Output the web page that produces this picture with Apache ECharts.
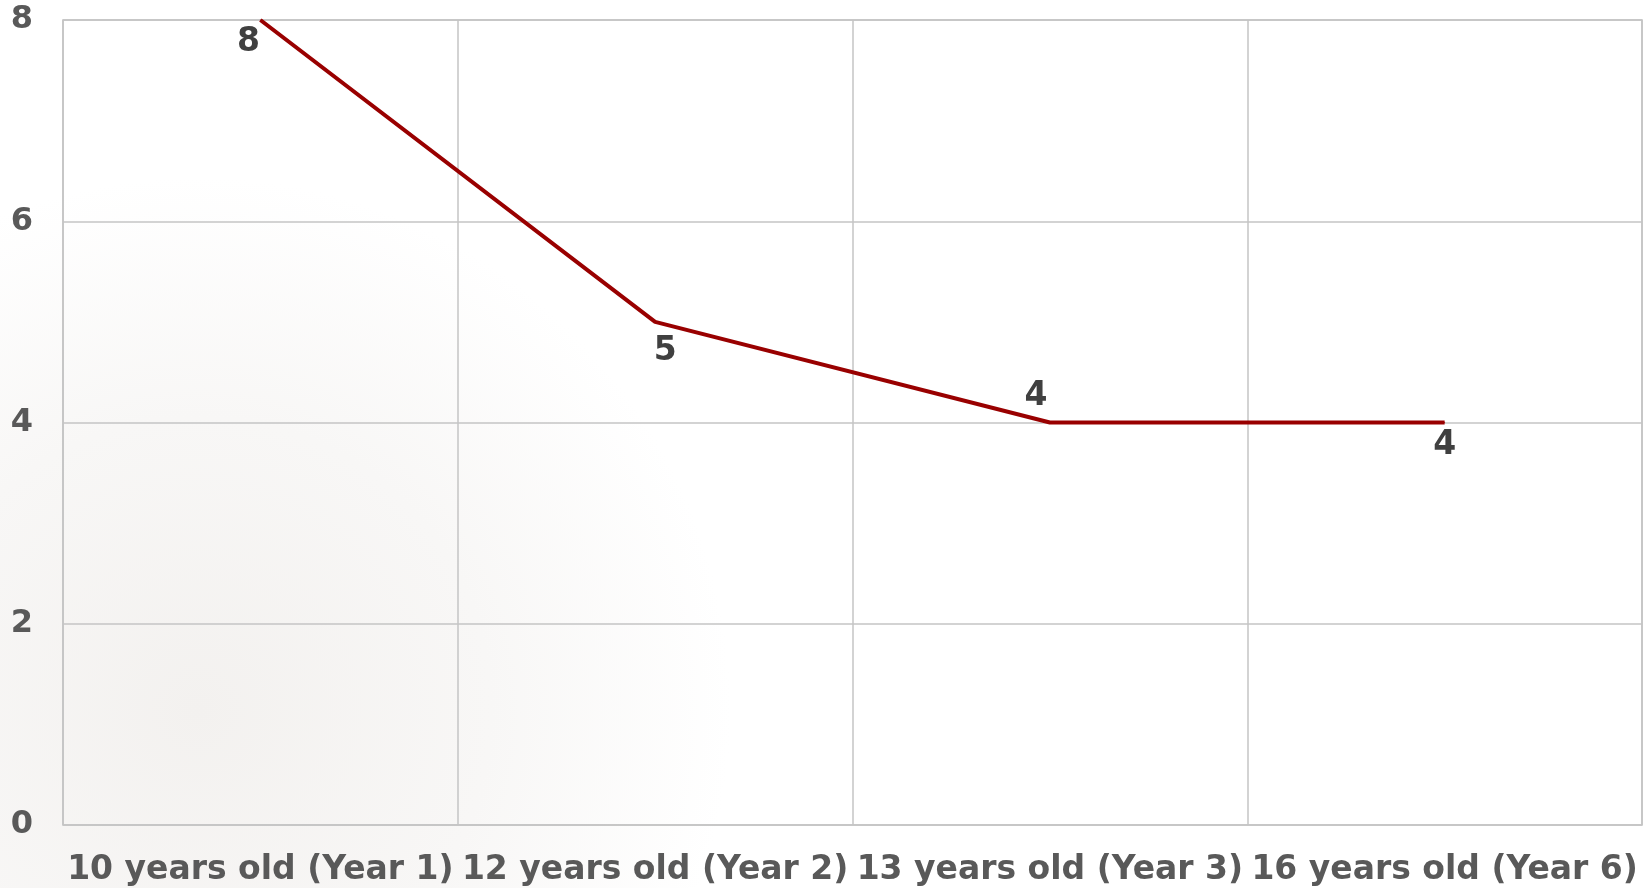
<!DOCTYPE html>
<html>
<head>
<meta charset="utf-8">
<script src="https://cdn.jsdelivr.net/npm/echarts@6/dist/echarts.min.js"></script>
<style>
  html, body { margin: 0; padding: 0; background: #fff; }
  #main { width: 1648px; height: 888px; }
</style>
</head>
<body>
<div id="main"></div>
<script>
  // data
  var categories = ['10 years old (Year 1)', '12 years old (Year 2)', '13 years old (Year 3)', '16 years old (Year 6)']
  var values = [8, 5, 4, 4]
  var yTicks = { min: 0, max: 8, interval: 2 }

  // where each data label sits relative to its point (like the original)
  var labelPos = ['bottom', 'bottom', 'top', 'bottom']
  var labelOffset = [[-12, 0], [10, 8], [-14, -4], [0, 1]]

  var myChart = echarts.init(document.getElementById('main'))

  var seriesData = values.map(function (v, i) {
    return {
      value: v,
      label: { position: labelPos[i], offset: labelOffset[i] }
    }
  })

  var option = {
    // faint wash standing in for the washed-out picture behind the original
    backgroundColor: {
      type: 'radial',
      x: 0.12,
      y: 0.8,
      r: 0.6,
      colorStops: [
        { offset: 0, color: '#f3f1ef' },
        { offset: 0.55, color: '#f8f7f6' },
        { offset: 1, color: '#ffffff' }
      ]
    },
    textStyle: { fontFamily: 'DejaVu Sans' },
    grid: {
      left: 63,
      right: 6,
      top: 20,
      bottom: 63,
      show: true,
      borderColor: '#bdbdbd',
      borderWidth: 1.5
    },
    xAxis: {
      type: 'category',
      data: categories,
      boundaryGap: true,
      axisLine: { show: false },
      axisTick: { show: false },
      splitLine: { show: true, lineStyle: { color: '#c4c4c4', width: 1.5 } },
      axisLabel: {
        interval: 0,
        margin: 29,
        color: '#595959',
        fontSize: 33,
        fontWeight: 'bold'
      }
    },
    yAxis: {
      type: 'value',
      min: yTicks.min,
      max: yTicks.max,
      interval: yTicks.interval,
      axisLine: { show: false },
      axisTick: { show: false },
      splitLine: { lineStyle: { color: '#c4c4c4', width: 1.5 } },
      axisLabel: {
        margin: 30,
        color: '#595959',
        fontSize: 32,
        fontWeight: 'bold'
      }
    },
    series: [
      {
        type: 'line',
        data: seriesData,
        symbol: 'circle',
        symbolSize: 1,
        clip: false,
        itemStyle: { color: '#990000' },
        lineStyle: { color: '#990000', width: 4 },
        label: {
          show: true,
          color: '#404040',
          fontSize: 33,
          fontWeight: 'bold'
        },
        animation: false
      }
    ]
  }
  myChart.setOption(option)
</script>
</body>
</html>
